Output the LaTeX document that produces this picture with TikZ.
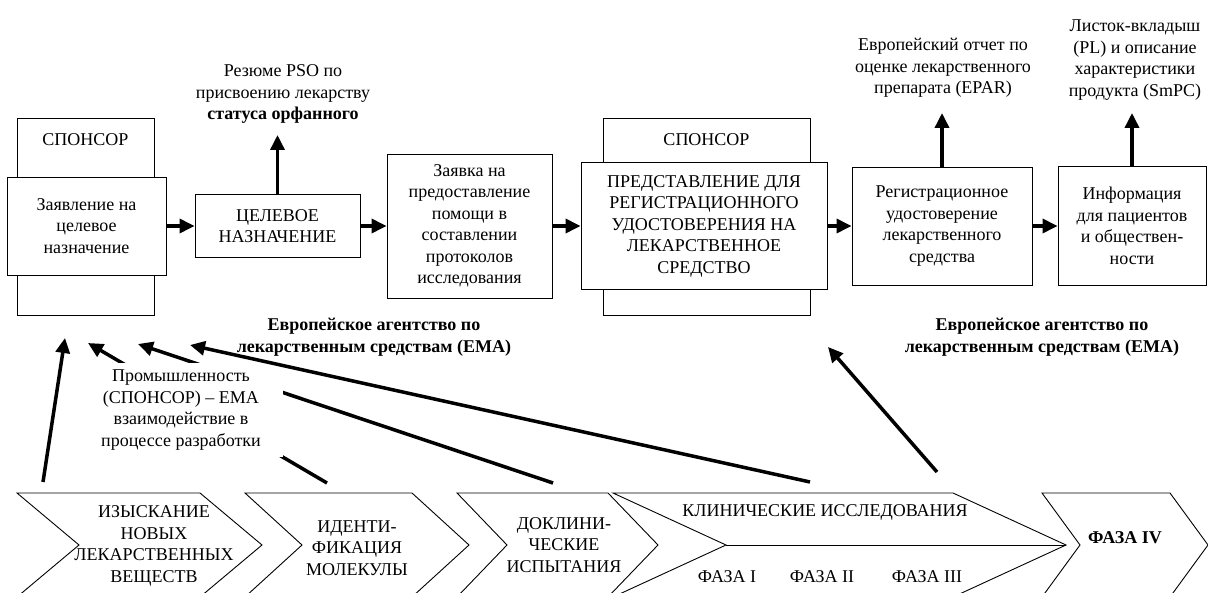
\documentclass[tikz,border=0pt]{standalone}
\usepackage{fontspec}
\setmainfont{Liberation Serif}
\usetikzlibrary{arrows.meta}

\begin{document}
\begin{tikzpicture}[x=1pt,y=-1pt,line width=0.9pt,
font=\fontsize{18}{21.5}\selectfont,
>={Triangle[length=15pt,width=14pt]},
flowarrow/.style={->,line width=3.5pt},
stageblock/.style={draw,rectangle,fill=white,align=center,inner sep=3pt},
sponsorblock/.style={draw,rectangle,minimum width=137pt,minimum height=197pt},
notetext/.style={align=center,inner sep=0pt},
chevron/.style={draw,line width=0.9pt}]
\useasboundingbox (0,0) rectangle (1208,593);

% sponsor frames
\draw (85.5,216.5) node[sponsorblock] (sponsorA) {};
\draw (85.5,140) node[notetext] (sponsorAtext) {СПОНСОР};
\draw (706.5,216.5) node[sponsorblock,minimum width=207pt] (sponsorB) {};
\draw (706.5,140) node[notetext] (sponsorBtext) {СПОНСОР};

% main row
\draw (86.5,226) node[stageblock,minimum width=159pt,minimum height=98pt] (appl) {Заявление на\\целевое\\назначение};
\draw (277.5,226) node[stageblock,minimum width=165pt,minimum height=63pt] (target) {ЦЕЛЕВОЕ\\НАЗНАЧЕНИЕ};
\draw (469.5,226) node[stageblock,minimum width=165pt,minimum height=144pt] (protocol) {Заявка на\\предоставление\\помощи в\\составлении\\протоколов\\исследования};
\draw (704,226) node[stageblock,minimum width=246pt,minimum height=127pt] (submit) {ПРЕДСТАВЛЕНИЕ ДЛЯ\\РЕГИСТРАЦИОННОГО\\УДОСТОВЕРЕНИЯ НА\\ЛЕКАРСТВЕННОЕ\\СРЕДСТВО};
\draw (942,226) node[stageblock,minimum width=180pt,minimum height=118pt] (licence) {Регистрационное\\удостоверение\\лекарственного\\средства};
\draw (1132,226) node[stageblock,minimum width=148pt,minimum height=119pt] (info) {Информация\\для пациентов\\и обществен-\\ности};

\draw[flowarrow] (appl.0) -- (target.180);
\draw[flowarrow] (target.0) -- (protocol.180);
\draw[flowarrow] (protocol.0) -- (submit.180);
\draw[flowarrow] (submit.0) -- (licence.180);
\draw[flowarrow] (licence.0) -- (info.180);

% outputs on top
\draw (283,94) node[notetext] (orphan) {Резюме PSO по\\присвоению лекарству\\\textbf{статуса орфанного}};
\draw (943,68) node[notetext] (epar) {Европейский отчет по\\оценке лекарственного\\препарата (EPAR)};
\draw (1135,60) node[notetext] (smpc) {Листок-вкладыш\\(PL) и описание\\характеристики\\продукта (SmPC)};
\coordinate (orphantip) at (277.5,135);
\coordinate (epartip) at (942,113);
\draw[flowarrow] (target.90) -- (orphantip);
\draw[flowarrow] (licence.90) -- (epartip);
\draw[flowarrow] (info.90) -- (info.90 |- epartip);

\draw (374,337) node[notetext,font=\fontsize{18}{21.5}\selectfont\bfseries] (emaA) {Европейское агентство по\\лекарственным средствам (EMA)};
\draw (1042,337) node[notetext,font=\fontsize{18}{21.5}\selectfont\bfseries] (emaB) {Европейское агентство по\\лекарственным средствам (EMA)};

% development stages
\draw[chevron] (17,493) -- (200,493) -- (262,545) -- (200,597) -- (17,597) -- (79,545) -- cycle;
\draw[chevron] (245,493) -- (412,493) -- (469,545) -- (412,597) -- (245,597) -- (302,545) -- cycle;
\draw[chevron] (457,493) -- (608,493) -- (658,545) -- (608,597) -- (457,597) -- (507,545) -- cycle;
\draw[chevron] (613,493) -- (953,493) -- (1066,545) -- (953,597) -- (613,597) -- (726,545) -- cycle;
\draw[chevron] (726,545) -- (1066,545);
\draw[chevron] (1042,493) -- (1170,493) -- (1208,545) -- (1170,597) -- (1042,597) -- (1080,545) -- cycle;

\draw (154,546) node[notetext] (discovery) {ИЗЫСКАНИЕ\\НОВЫХ\\ЛЕКАРСТВЕННЫХ\\ВЕЩЕСТВ};
\draw (357,548) node[notetext] (ident) {ИДЕНТИ-\\ФИКАЦИЯ\\МОЛЕКУЛЫ};
\draw (564,545) node[notetext] (preclin) {ДОКЛИНИ-\\ЧЕСКИЕ\\ИСПЫТАНИЯ};
\draw (825,512) node[notetext] (clinical) {КЛИНИЧЕСКИЕ ИССЛЕДОВАНИЯ};
\draw (727,577) node[notetext] (phaseI) {ФАЗА I};
\draw (822,577) node[notetext] (phaseII) {ФАЗА II};
\draw (927,577) node[notetext] (phaseIII) {ФАЗА III};
\draw (1125,538) node[notetext,font=\fontsize{18}{21.5}\selectfont\bfseries] (phaseIV) {ФАЗА IV};

% interaction arrows
\coordinate (fromA) at (43,482);   \coordinate (toA) at (65,338);
\coordinate (fromB) at (327,483);  \coordinate (toB) at (88,343);
\coordinate (fromC) at (553,483);  \coordinate (toC) at (138,344);
\coordinate (fromD) at (810,482);  \coordinate (toD) at (190,345);
\coordinate (fromE) at (937,472);  \coordinate (toE) at (828,347);
\draw[flowarrow] (fromB) -- (toB);
\draw[flowarrow] (fromC) -- (toC);
\draw (181,410) node[notetext,fill=white,minimum width=203pt,minimum height=94pt] (industry) {Промышленность\\(СПОНСОР) – EMA\\взаимодействие в\\процессе разработки};
\draw[flowarrow] (fromA) -- (toA);
\draw[flowarrow] (fromD) -- (toD);
\draw[flowarrow] (fromE) -- (toE);
\end{tikzpicture}
\end{document}
